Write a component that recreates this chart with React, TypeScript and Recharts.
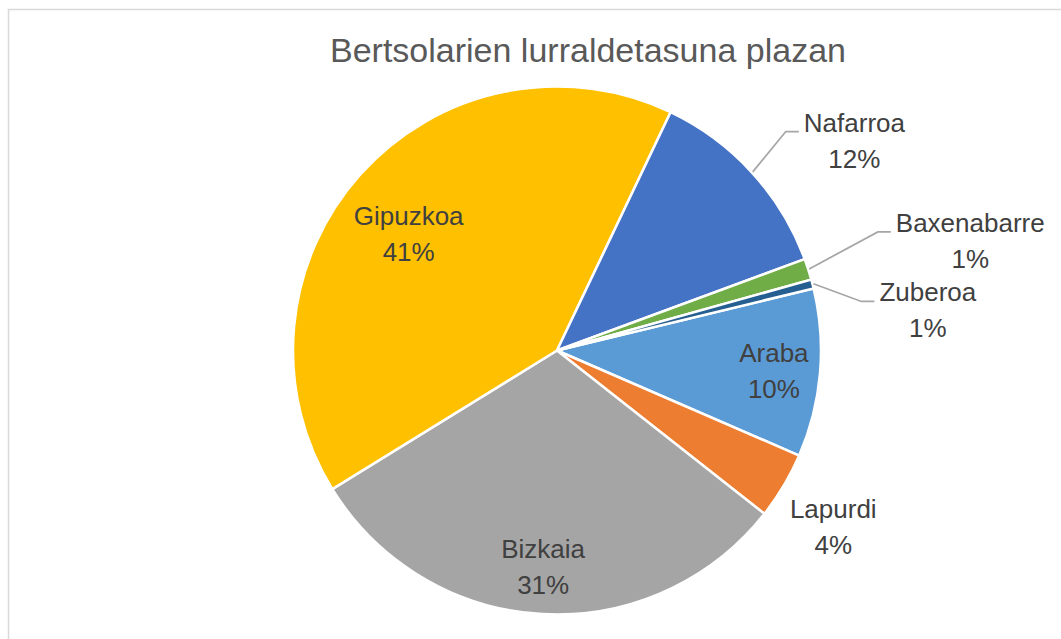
import { PieChart, Pie, Cell } from "recharts";

const chartTitle = "Bertsolarien lurraldetasuna plazan";

// slices in series order (Excel starts the first one at the rotated first-slice angle)
const regions = ["Araba", "Lapurdi", "Bizkaia", "Gipuzkoa", "Nafarroa", "Baxenabarre", "Zuberoa"];
const shares = [10.3, 4.1, 30.6, 40.9, 12.3, 1.3, 0.55];

const sliceColors = ["#5B9BD5", "#ED7D31", "#A5A5A5", "#FFC000", "#4472C4", "#70AD47", "#255E91"];

// label placement: distance as fraction of the outer radius, nudge in degrees (clockwise)
const labelPlacement: Record<string, { rf: number; da: number; leader?: boolean }> = {
  Araba: { rf: 0.825, da: 0.25 },
  Lapurdi: { rf: 1.24, da: 1.6 },
  Bizkaia: { rf: 0.82, da: 0.4 },
  Gipuzkoa: { rf: 0.715, da: -3.7 },
  Nafarroa: { rf: 1.38, da: 7.1, leader: true },
  Baxenabarre: { rf: 1.62, da: 3.0, leader: true },
  Zuberoa: { rf: 1.413, da: 8.35, leader: true },
};

const data = regions.map((name, i) => ({ name, value: shares[i] }));

const RAD = Math.PI / 180;
const FONT = '"Liberation Sans", Arial, sans-serif';
const LABEL_SIZE = 26;

let measureCtx: CanvasRenderingContext2D | null = null;
function textWidth(s: string) {
  if (!measureCtx) measureCtx = document.createElement("canvas").getContext("2d");
  if (!measureCtx) return s.length * LABEL_SIZE * 0.5;
  measureCtx.font = `${LABEL_SIZE}px ${FONT}`;
  return measureCtx.measureText(s).width;
}

function renderLabel(props: any) {
  const { cx, cy, midAngle, outerRadius, percent, index } = props;
  const name: string = props.name ?? regions[index];
  const p = labelPlacement[name];
  if (!p) return null;
  // recharts angles run counter-clockwise from 3 o'clock
  const a = (midAngle - p.da) * RAD;
  const x = cx + outerRadius * p.rf * Math.cos(a);
  const y = cy - outerRadius * p.rf * Math.sin(a);
  const b1 = y - 8.5;
  const b2 = b1 + 36;

  let leader = null;
  if (p.leader) {
    const m = midAngle * RAD;
    const sx = cx + (outerRadius + 1) * Math.cos(m);
    const sy = cy - (outerRadius + 1) * Math.sin(m);
    const end = x - textWidth(name) / 2 - 5;
    leader = (
      <polyline
        points={`${sx},${sy} ${end - 13},${b1} ${end},${b1}`}
        fill="none"
        stroke="#A6A6A6"
        strokeWidth={1.75}
      />
    );
  }

  return (
    <g key={`lbl-${name}`}>
      {leader}
      <text x={x} y={b1} textAnchor="middle" fontFamily={FONT} fontSize={LABEL_SIZE} fill="#404040">
        {name}
      </text>
      <text x={x} y={b2} textAnchor="middle" fontFamily={FONT} fontSize={LABEL_SIZE} fill="#404040">
        {`${Math.round(percent * 100)}%`}
      </text>
    </g>
  );
}

export default function App() {
  return (
    <div style={{ position: "absolute", left: 0, top: 0, width: 1061, height: 639, background: "#fff" }}>
      <svg width={1061} height={639} style={{ position: "absolute", left: 0, top: 0 }}>
        <line x1={8.5} y1={9} x2={8.5} y2={639} stroke="#D9D9D9" strokeWidth={1.5} />
        <line x1={8} y1={9.5} x2={1061} y2={9.5} stroke="#D9D9D9" strokeWidth={1.5} />
        <text x={588} y={62} textAnchor="middle" fontFamily={FONT} fontSize={34} fill="#595959">
          {chartTitle}
        </text>
      </svg>
      <div style={{ position: "absolute", left: 0, top: 0 }}>
        <PieChart width={1061} height={639} margin={{ top: 0, right: 0, bottom: 0, left: 0 }}>
          <Pie
            data={data}
            dataKey="value"
            nameKey="name"
            cx={557}
            cy={350.5}
            outerRadius={264}
            startAngle={13.6}
            endAngle={-346.4}
            label={renderLabel}
            labelLine={false}
            isAnimationActive={false}
          >
            {data.map((d, i) => (
              <Cell key={d.name} fill={sliceColors[i]} stroke="#FFFFFF" strokeWidth={2.5} />
            ))}
          </Pie>
        </PieChart>
      </div>
    </div>
  );
}
